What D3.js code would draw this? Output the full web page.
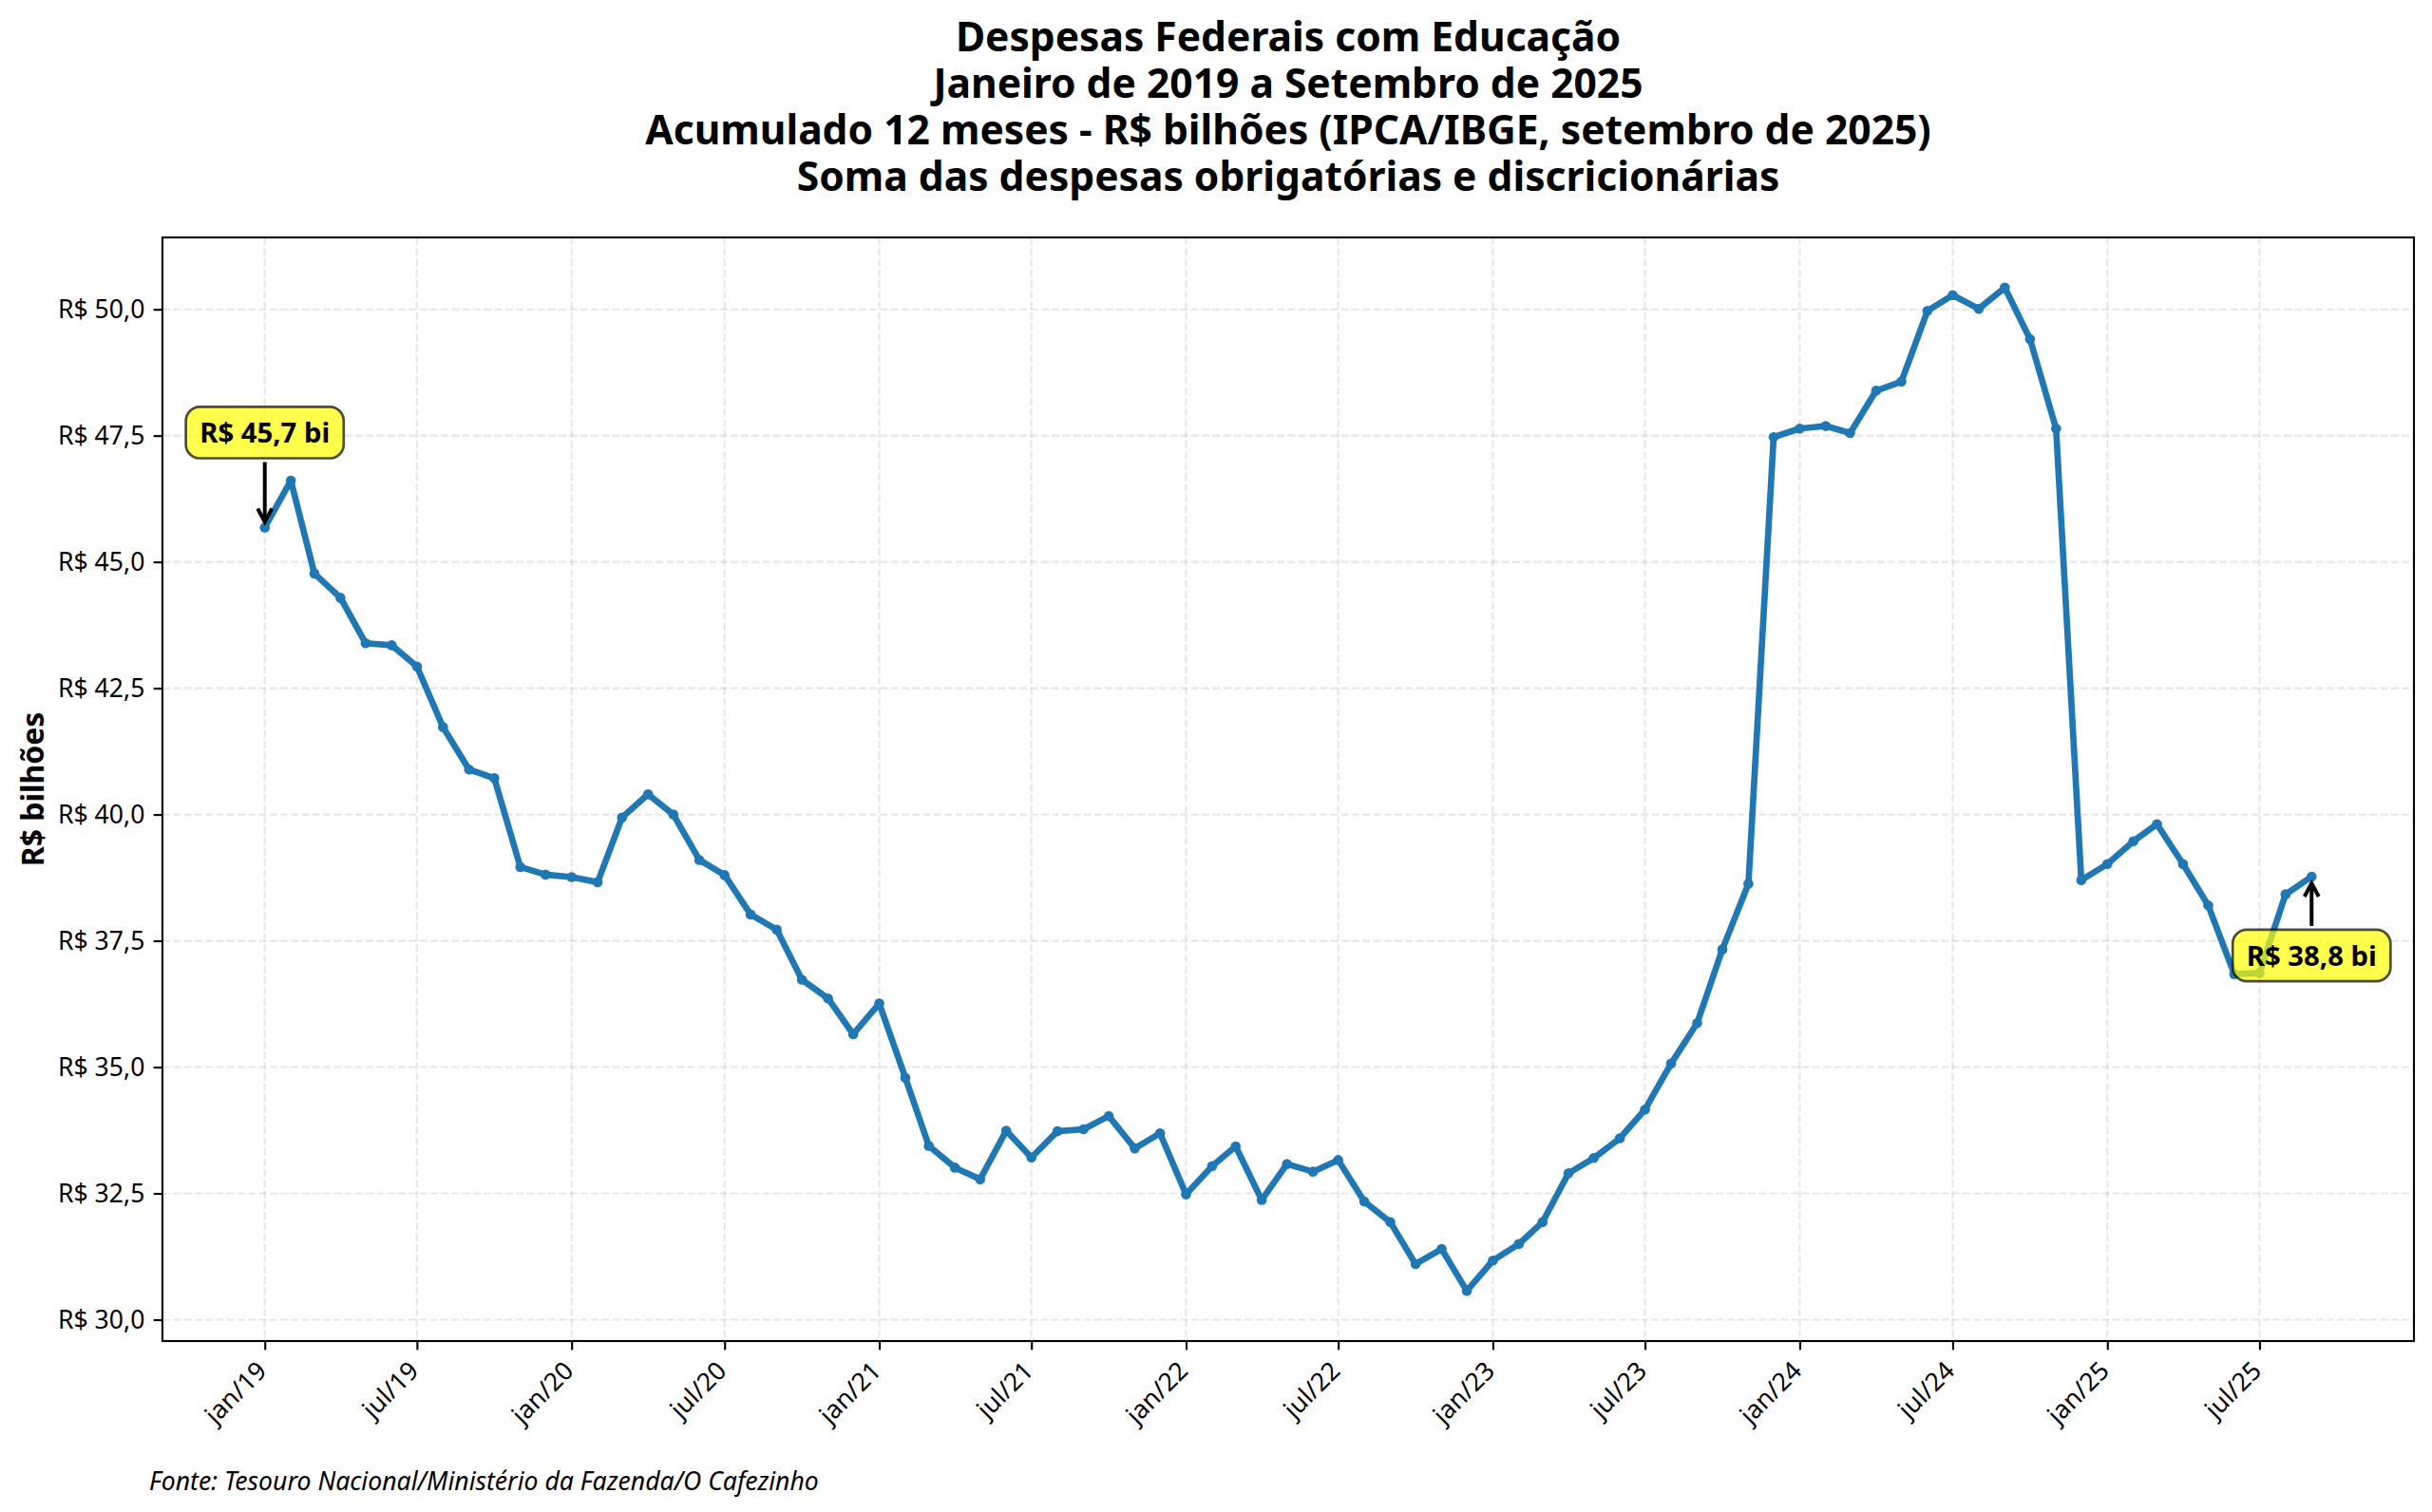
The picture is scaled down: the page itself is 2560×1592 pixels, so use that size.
<!DOCTYPE html>
<html><head><meta charset="utf-8">
<script src="https://cdn.jsdelivr.net/npm/d3@7"></script>
<style>html,body{margin:0;padding:0;background:#fff} svg{display:block}</style>
</head><body>
<svg id="chart" width="2560" height="1592"></svg>
<script>
// Despesas Federais com Educação - acumulado 12 meses, R$ bilhões (jan/2019 .. set/2025)
const v2019 = [45.68, 46.61, 44.77, 44.29, 43.39, 43.35, 42.93, 41.73, 40.89, 40.72, 38.96, 38.81];
const v2020 = [38.76, 38.66, 39.94, 40.40, 40.00, 39.10, 38.80, 38.02, 37.72, 36.73, 36.36, 35.65];
const v2021 = [36.26, 34.79, 33.44, 33.01, 32.78, 33.74, 33.21, 33.73, 33.77, 34.03, 33.39, 33.69];
const v2022 = [32.48, 33.04, 33.43, 32.37, 33.08, 32.93, 33.16, 32.34, 31.93, 31.10, 31.40, 30.57];
const v2023 = [31.17, 31.50, 31.93, 32.90, 33.20, 33.59, 34.16, 35.07, 35.87, 37.33, 38.63, 47.47];
const v2024 = [47.64, 47.69, 47.55, 48.39, 48.57, 49.97, 50.28, 50.01, 50.43, 49.41, 47.64, 38.70];
const v2025 = [39.02, 39.47, 39.81, 39.02, 38.20, 36.84, 36.86, 38.42, 38.77];
const seriesYears = [2019, 2020, 2021, 2022, 2023, 2024, 2025];

const tickDates = ["2019-01-01","2019-07-01","2020-01-01","2020-07-01","2021-01-01","2021-07-01",
  "2022-01-01","2022-07-01","2023-01-01","2023-07-01","2024-01-01","2024-07-01","2025-01-01","2025-07-01"];
const tickLabels = ["jan/19","jul/19","jan/20","jul/20","jan/21","jul/21","jan/22","jul/22",
  "jan/23","jul/23","jan/24","jul/24","jan/25","jul/25"];
const yTicks = [30, 32.5, 35, 37.5, 40, 42.5, 45, 47.5, 50];
const titleLines = ["Despesas Federais com Educação","Janeiro de 2019 a Setembro de 2025",
  "Acumulado 12 meses - R$ bilhões (IPCA/IBGE, setembro de 2025)","Soma das despesas obrigatórias e discricionárias"];
const yLabel = "R$ bilhões";
const footer = "Fonte: Tesouro Nacional/Ministério da Fazenda/O Cafezinho";
const annotLabels = ["R$ 45,7 bi", "R$ 38,8 bi"];

const allValues = [v2019, v2020, v2021, v2022, v2023, v2024, v2025];
const series = [];
allValues.forEach((arr, yi) => arr.forEach((v, mi) => series.push({date: new Date(seriesYears[yi], mi, 1), value: v})));

const PT = 2.66; // px per point
const FONT = "'Noto Sans', 'DejaVu Sans', sans-serif";
const svg = d3.select("#chart");
const M = {left: 171, right: 2541, top: 250, bottom: 1412};

const t0 = series[0].date, t1 = series[series.length - 1].date;
const tpad = (t1 - t0) * 0.05;
const x = d3.scaleTime().domain([new Date(+t0 - tpad), new Date(+t1 + tpad)]).range([M.left, M.right]);
const [ymin, ymax] = d3.extent(series, d => d.value);
const ypad = (ymax - ymin) * 0.05;
const y = d3.scaleLinear().domain([ymin - ypad, ymax + ypad]).range([M.bottom, M.top]);

const loc = d3.formatLocale({decimal: ",", thousands: ".", grouping: [3], currency: ["R$ ", ""]});
const fmtY = loc.format("$.1f");

const tickD = tickDates.map(s => { const p = s.split("-"); return new Date(+p[0], +p[1] - 1, +p[2]); });

// grid
const gridStyle = sel => sel.attr("stroke", "#b0b0b0").attr("stroke-opacity", 0.3)
  .attr("stroke-width", 0.8 * PT).attr("stroke-dasharray", `${3.7 * 0.8 * PT},${1.6 * 0.8 * PT}`);
const grid = svg.append("g");
grid.selectAll("line.gy").data(yTicks).join("line")
  .attr("x1", M.left).attr("x2", M.right).attr("y1", d => y(d)).attr("y2", d => y(d)).call(gridStyle);
grid.selectAll("line.gx").data(tickD).join("line")
  .attr("y1", M.top).attr("y2", M.bottom).attr("x1", d => x(d)).attr("x2", d => x(d)).call(gridStyle);

// axes
const tl = 3.5 * PT;
const yAxis = svg.append("g").attr("transform", `translate(${M.left},0)`)
  .call(d3.axisLeft(y).tickValues(yTicks).tickFormat(fmtY).tickSize(tl).tickPadding(tl));
yAxis.select(".domain").remove();
yAxis.selectAll("line").attr("stroke", "#000").attr("stroke-width", 0.8 * PT);
yAxis.selectAll("text").attr("font-family", FONT).attr("font-size", 10 * PT).attr("fill", "#000");

const xAxis = svg.append("g").attr("transform", `translate(0,${M.bottom})`)
  .call(d3.axisBottom(x).tickValues(tickD).tickFormat((d, i) => tickLabels[i]).tickSize(tl).tickPadding(tl));
xAxis.select(".domain").remove();
xAxis.selectAll("line").attr("stroke", "#000").attr("stroke-width", 0.8 * PT);
xAxis.selectAll("text").attr("font-family", FONT).attr("font-size", 10 * PT).attr("fill", "#000")
  .attr("text-anchor", "end").attr("dy", null).attr("y", 0)
  .attr("transform", "translate(3,33) rotate(-45)");

// line
const line = d3.line().x(d => x(d.date)).y(d => y(d.value));
svg.append("path").datum(series).attr("d", line).attr("fill", "none")
  .attr("stroke", "#1f77b4").attr("stroke-width", 2.5 * PT).attr("stroke-linejoin", "round").attr("stroke-linecap", "butt");
svg.append("g").selectAll("circle").data(series).join("circle")
  .attr("cx", d => x(d.date)).attr("cy", d => y(d.value)).attr("r", 2 * PT).attr("fill", "#1f77b4");

// frame
svg.append("rect").attr("x", M.left).attr("y", M.top).attr("width", M.right - M.left).attr("height", M.bottom - M.top)
  .attr("fill", "none").attr("stroke", "#000").attr("stroke-width", 0.8 * PT);

// annotations
const annots = [
  {d: series[0], label: annotLabels[0], dy: -100},
  {d: series[series.length - 1], label: annotLabels[1], dy: 83}
];
annots.forEach(a => {
  const px = x(a.d.date), py = y(a.d.value);
  const cy = py + a.dy;
  const g = svg.append("g");
  const rect = g.append("rect");
  const fs = 11 * PT;
  const txt = g.append("text").attr("x", px).attr("y", cy).attr("text-anchor", "middle")
    .attr("dominant-baseline", "central").attr("font-family", FONT).attr("font-weight", "bold")
    .attr("font-size", fs).attr("fill", "#000").text(a.label);
  const bb = txt.node().getBBox();
  const pad = 0.5 * fs;
  const th = 0.85 * fs;
  rect.attr("x", bb.x - pad).attr("y", cy - th / 2 - pad).attr("width", bb.width + 2 * pad).attr("height", th + 2 * pad)
    .attr("rx", pad).attr("ry", pad).attr("fill", "yellow").attr("fill-opacity", 0.7)
    .attr("stroke", "#000").attr("stroke-opacity", 0.7).attr("stroke-width", 1 * PT);
  const boxEdge = a.dy < 0 ? cy + th / 2 + pad + 4 : cy - th / 2 - pad - 4;
  const tip = a.dy < 0 ? py - 6 : py + 7;
  const dir = a.dy < 0 ? 1 : -1;
  svg.append("path").attr("d", `M${px},${boxEdge} L${px},${tip}`).attr("stroke", "#000").attr("stroke-width", 1.5 * PT).attr("fill", "none");
  svg.append("path").attr("d", `M${px - 7.5},${tip - dir * 14} L${px},${tip} L${px + 7.5},${tip - dir * 14}`)
    .attr("stroke", "#000").attr("stroke-width", 1.5 * PT).attr("fill", "none").attr("stroke-linejoin", "miter");
});

// title (one multi-line text)
const title = svg.append("text").attr("text-anchor", "middle")
  .attr("font-family", FONT).attr("font-weight", "bold").attr("font-size", 16 * PT).attr("fill", "#000");
title.selectAll("tspan").data(titleLines).join("tspan")
  .attr("x", (M.left + M.right) / 2).attr("y", (d, i) => 37 + i * 49).attr("dominant-baseline", "central").text(d => d);

svg.append("text").attr("transform", `translate(33,${(M.top + M.bottom) / 2}) rotate(-90)`)
  .attr("text-anchor", "middle").attr("dominant-baseline", "central")
  .attr("font-family", FONT).attr("font-weight", "bold").attr("font-size", 12 * PT).attr("fill", "#000").text(yLabel);

svg.append("text").attr("x", 157).attr("y", 1559).attr("dominant-baseline", "central")
  .attr("font-family", FONT).attr("font-style", "italic").attr("font-size", 10 * PT).attr("fill", "#000").text(footer);
</script>
</body></html>
